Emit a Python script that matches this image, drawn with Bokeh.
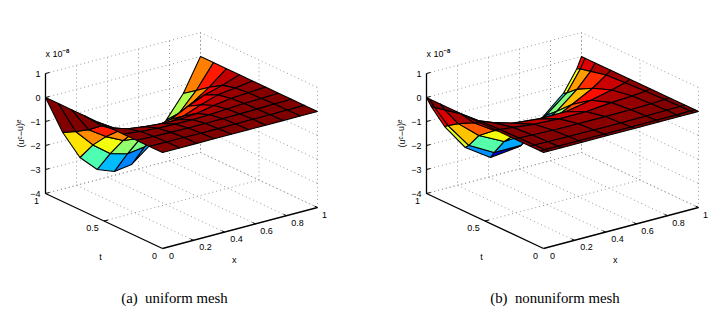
from bokeh.plotting import figure
from bokeh.layouts import row
from bokeh.models import LinearColorMapper, ColumnDataSource
from bokeh.embed import file_html
from bokeh.resources import INLINE
from bokeh.core.properties import value

# ---------- data ----------
x_uniform = [0, 1/9, 2/9, 3/9, 4/9, 5/9, 6/9, 7/9, 8/9, 1]
t_uniform = [0, 1/9, 2/9, 3/9, 4/9, 5/9, 6/9, 7/9, 8/9, 1]
x_nonuniform = [0, .03, .117, .25, .413, .587, .75, .883, .97, 1]
t_nonuniform = [0, .03, .117, .25, .413, .587, .75, .883, .97, 1]

# rows: t index 0..9, columns: x index 0..9 (units 1e-8)
err_uniform = [
    [0, 0, 0, 0, 0, 0, 0, 0, 0, 0],
    [0, -.01, -.01, -.02, -.02, -.02, -.01, -.01, 0, 0],
    [0, -.03, -.05, -.06, -.06, -.05, -.04, -.03, -.01, 0],
    [0, -.08, -.13, -.15, -.16, -.14, -.09, -.05, -.03, 0],
    [0, -.22, -.32, -.38, -.40, -.34, -.20, -.10, -.05, 0],
    [0, -.45, -.68, -.78, -.82, -.70, -.42, -.20, -.10, 0],
    [0, -.60, -1.00, -1.18, -1.22, -1.10, -.75, -.45, -.25, 0],
    [0, -1.02, -1.50, -1.85, -1.95, -1.85, -1.55, -1.05, -.58, 0],
    [0, -1.35, -2.10, -2.65, -2.85, -2.75, -2.35, -1.73, -.97, 0],
    [0, -1.65, -2.88, -3.57, -3.84, -3.74, -3.18, -2.28, -1.35, 0],
]
err_nonuniform = [
    [0, 0, 0, 0, 0, 0, 0, 0, 0, 0],
    [0, 0, -.01, -.01, -.01, -.01, -.01, -.01, 0, 0],
    [0, -.01, -.02, -.03, -.04, -.04, -.03, -.02, -.01, 0],
    [0, -.02, -.04, -.07, -.08, -.08, -.07, -.05, -.02, 0],
    [0, -.04, -.10, -.20, -.25, -.25, -.15, -.10, -.05, 0],
    [0, -.08, -.30, -.55, -.65, -.65, -.45, -.25, -.10, 0],
    [0, -.15, -.68, -1.23, -1.55, -1.55, -1.00, -.55, -.15, 0],
    [0, -.30, -1.02, -1.74, -2.27, -2.20, -1.60, -.90, -.30, 0],
    [0, -.40, -1.30, -2.35, -2.93, -2.93, -1.95, -1.25, -.40, 0],
    [0, -.42, -1.41, -2.51, -3.21, -3.08, -2.10, -1.34, -.46, 0],
]

x_ticks = [0, .2, .4, .6, .8, 1]
x_tick_labels = ["0", "0.2", "0.4", "0.6", "0.8", "1"]
t_ticks = [0, .5, 1]
t_tick_labels = ["0", "0.5", "1"]
z_ticks = [-4, -3, -2, -1, 0, 1]
z_tick_labels = ["\u22124", "\u22123", "\u22122", "\u22121", "0", "1"]
captions = ["(a)\u00a0\u00a0uniform mesh", "(b)\u00a0\u00a0nonuniform mesh"]


# ---------- palette (MATLAB jet) ----------
def jet(f):
    def c(v):
        return int(round(255 * max(0.0, min(1.0, v))))
    return "#%02x%02x%02x" % (c(1.5 - abs(4 * f - 3)), c(1.5 - abs(4 * f - 2)), c(1.5 - abs(4 * f - 1)))


JET = [jet(i / 255) for i in range(256)]
GRID = "#999999"
FONT = value("Liberation Sans")


def panel(xs, ts, zs, caption, ox, left, cap_x):
    # parallel projection of the 3D box onto the page
    def px(x, t, z):
        return ox + 117 * (1 - t) + 155 * x

    def py(x, t, z):
        return 248 - 41 * x - 55 * t - (z + 4) * 24

    p = figure(width=360, height=308, x_range=(left, left + 360), y_range=(308, 0),
               output_backend="svg", toolbar_location=None, min_border=0,
               outline_line_color=None, background_fill_color="white")
    p.axis.visible = False
    p.grid.visible = False

    def seg(pts, **kw):
        p.line([px(*q) for q in pts], [py(*q) for q in pts], **kw)

    def dotted(pts):
        seg(pts, line_color=GRID, line_width=1, line_dash="1 3")

    # dotted box grid
    for z in z_ticks:
        dotted([(0, 1, z), (1, 1, z), (1, 0, z)])
    for x in x_ticks[1:]:
        dotted([(x, 0, -4), (x, 1, -4), (x, 1, 1)])
    for t in t_ticks:
        dotted([(0, t, -4), (1, t, -4), (1, t, 1)])

    # surface, far to near
    cells = dict(xs=[], ys=[], z=[])
    for j in range(len(ts) - 2, -1, -1):
        for i in range(len(xs) - 2, -1, -1):
            c = [(xs[i], ts[j], zs[j][i]), (xs[i + 1], ts[j], zs[j][i + 1]),
                 (xs[i + 1], ts[j + 1], zs[j + 1][i + 1]), (xs[i], ts[j + 1], zs[j + 1][i])]
            cells["xs"].append([px(*q) for q in c])
            cells["ys"].append([py(*q) for q in c])
            cells["z"].append(zs[j][i])
    low = min(min(r) for r in zs)
    mapper = LinearColorMapper(palette=JET, low=low, high=0)
    p.patches("xs", "ys", source=ColumnDataSource(cells),
              fill_color={"field": "z", "transform": mapper},
              line_color="black", line_width=1.1)

    # black axes
    ax = dict(line_color="black", line_width=1.3)
    seg([(0, 1, -4), (0, 1, 1)], **ax)
    seg([(0, 1, -4), (0, 0, -4)], **ax)
    seg([(0, 0, -4), (1, 0, -4)], **ax)

    # ticks
    for z in z_ticks:
        p.line([px(0, 1, z), px(0, 1, z) + 4], [py(0, 1, z), py(0, 1, z) - 1], line_color="black")
    for x in x_ticks[1:]:
        p.line([px(x, 0, -4), px(x, 0, -4) - 3], [py(x, 0, -4), py(x, 0, -4) - 1.4], line_color="black")
    p.line([px(0, .5, -4), px(0, .5, -4) + 4], [py(0, .5, -4), py(0, .5, -4) - 1], line_color="black")

    txt = dict(text_font=FONT, text_font_size="9px", text_color="black")
    p.text([px(0, 1, z) - 5 for z in z_ticks], [py(0, 1, z) for z in z_ticks], text=z_tick_labels,
           text_align="right", text_baseline="middle", **txt)
    p.text([px(x, 0, -4) + d for x, d in zip(x_ticks, [9, 12, 12, 11, 11, 7])],
           [py(x, 0, -4) + 7 for x in x_ticks], text=x_tick_labels,
           text_align="center", text_baseline="middle", **txt)
    p.text([px(0, t, -4) + d for t, d in zip(t_ticks, [-8, -11.5, -9])],
           [py(0, t, -4) + 7 for t in t_ticks], text=t_tick_labels,
           text_align="center", text_baseline="middle", **txt)
    p.text([px(.45, 0, -4) + 2], [py(.45, 0, -4) + 30], text=["x"], text_align="center", text_baseline="middle", **txt)
    p.text([px(0, .5, -4) - 3.5], [py(0, .5, -4) + 36], text=["t"], text_align="center", text_baseline="middle", **txt)
    p.text([px(0, 1, 1)], [py(0, 1, 1) - 20], text=["x 10"], text_align="left", text_baseline="middle", **txt)
    p.text([px(0, 1, 1) + 17], [py(0, 1, 1) - 23], text=["\u22128"], text_font=FONT, text_font_size="6px",
           text_font_style="bold", text_align="left", text_baseline="middle")
    p.text([px(0, 1, 0) - 25], [py(0, 1, 0) + 36], text=["(u\u1d9c\u2212u)\u1d49"], angle=1.5708,
           text_align="center", text_baseline="middle", **txt)

    # caption
    p.text([cap_x], [297], text=[caption], text_font=value("Liberation Serif"), text_font_size="14.8px",
           text_align="center", text_baseline="middle", text_color="black")
    return p


p1 = panel(x_uniform, t_uniform, err_uniform, captions[0], 45, 0, 174)
p2 = panel(x_nonuniform, t_nonuniform, err_nonuniform, captions[1], 426, 360, 554.5)
layout = row(p1, p2, spacing=0)
open("out.html", "w").write(file_html(layout, INLINE))
